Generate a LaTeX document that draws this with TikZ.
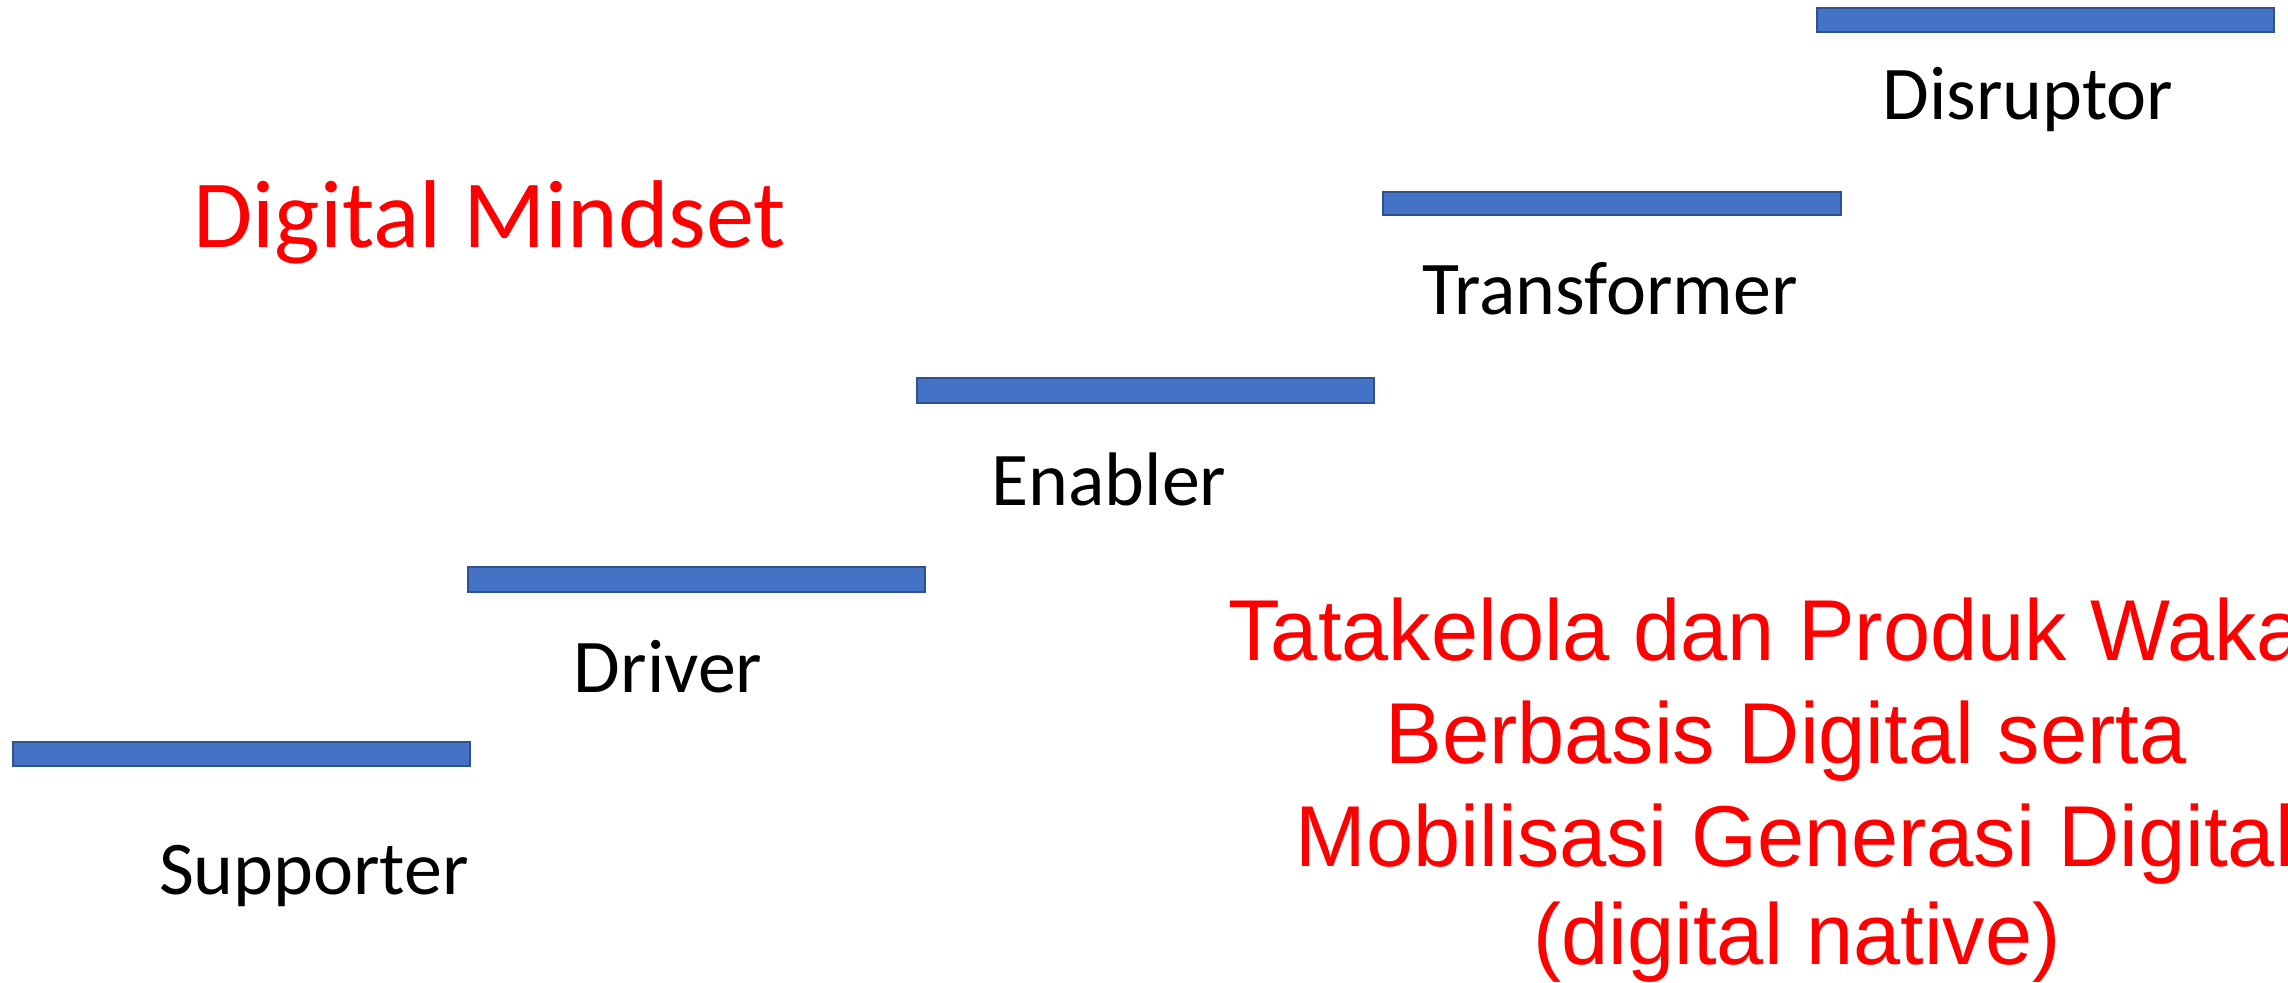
\documentclass[tikz,border=0pt]{standalone}
\usepackage{fontspec}
\setmainfont{Carlito}
\newfontfamily\redfont[FakeStretch=0.98]{Liberation Sans}
\definecolor{barblue}{HTML}{4472C4}
\definecolor{baredge}{HTML}{2F528F}
\definecolor{txtred}{HTML}{FF0000}
\tikzset{
  stepbar/.style={fill=barblue, draw=baredge, line width=0.55pt},
  steplabel/.style={anchor=base, inner sep=0pt, font=\fontsize{21.6}{26}\selectfont, text=black},
  titletext/.style={anchor=base, inner sep=0pt, font=\fontsize{27.4}{33}\selectfont, text=txtred},
  redline/.style={anchor=base, inner sep=0pt, font=\redfont\fontsize{24.6}{29}\selectfont, text=txtred}
}
\begin{document}
\begin{tikzpicture}[x=0.1mm, y=-0.1mm]
\useasboundingbox (0,0) rectangle (2288,982);
\clip (0,0) rectangle (2288,982);
% bars
\path[stepbar] (13,742) rectangle (470,766);
\path[stepbar] (468,567) rectangle (925,592);
\path[stepbar] (917,378) rectangle (1374,403);
\path[stepbar] (1383,192) rectangle (1841,215);
\path[stepbar] (1817,8) rectangle (2274,32);
% labels
\node[steplabel] (supporter) at (314,894) {Supporter};
\node[steplabel] (driver) at (668,692) {Driver};
\node[steplabel] (enabler) at (1109,505) {Enabler};
\node[steplabel] (transformer) at (1610,314) {Transformer};
\node[steplabel] (disruptor) at (2028,119) {Disruptor};
% title
\node[titletext] (mindset) at (490,247) {Digital Mindset};
% red block
\node[redline] (r1) at (1778,660) {Tatakelola dan Produk Wakaf};
\node[redline] (r2) at (1786,763) {Berbasis Digital serta};
\node[redline] (r3) at (1795,866) {Mobilisasi Generasi Digital};
\node[redline] (r4) at (1797,964) {(digital native)};
\end{tikzpicture}
\end{document}
